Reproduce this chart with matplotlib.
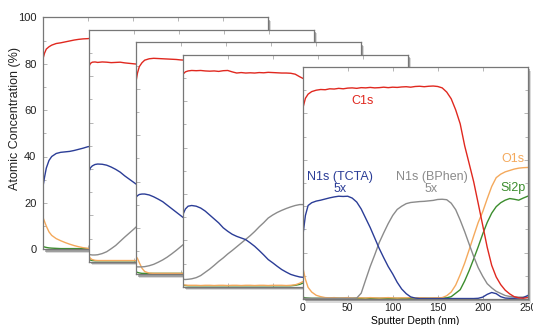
import matplotlib
matplotlib.use('Agg')
import matplotlib.pyplot as plt
from matplotlib.patches import Rectangle
from matplotlib.ticker import MultipleLocator

plt.rcParams['font.family'] = ['Liberation Sans', 'DejaVu Sans']

# ---- depth profiles: sputter depth (nm) vs atomic concentration (%) ----
# panel 1 (back)
p1_depth = [0, 2, 4, 7, 10, 15, 20, 25, 30, 35, 40, 45, 50, 55, 60]
p1_c1s = [81.7, 84.5, 86.3, 87.3, 88.0, 88.7, 89.0, 89.4, 89.8, 90.2, 90.5, 90.7, 90.8, 91.0, 91.1]
p1_tcta = [26.3, 31.0, 35.0, 38.3, 40.0, 41.3, 41.8, 42.0, 42.2, 42.6, 43.1, 43.6, 44.2, 44.5, 44.8]
p1_o1s = [14.1, 12.0, 10.0, 7.5, 6.0, 4.6, 3.7, 2.9, 2.2, 1.6, 1.1, 0.7, 0.4, 0.3, 0.3]
p1_si2p = [1.2, 1.0, 0.8, 0.6, 0.5, 0.4, 0.3, 0.3, 0.3, 0.3, 0.3, 0.3, 0.3, 0.3, 0.3]

# panel 2
p2_depth = [0, 2, 4, 7, 10, 15, 20, 25, 30, 35, 40, 45, 50, 55, 60]
p2_c1s = [84.0, 85.5, 86.0, 86.1, 85.9, 86.1, 86.0, 85.8, 85.9, 86.0, 85.7, 85.5, 85.3, 85.1, 85.0]
p2_tcta = [38.5, 40.5, 41.3, 41.9, 42.1, 42.0, 41.6, 40.8, 39.8, 38.6, 37.0, 35.6, 34.2, 32.8, 31.4]
p2_bphen = [3.2, 3.0, 2.9, 2.9, 3.0, 3.5, 4.3, 5.6, 7.0, 8.8, 10.6, 12.3, 14.0, 15.8, 17.5]
p2_o1s = [2.5, 1.4, 0.9, 0.6, 0.5, 0.5, 0.5, 0.5, 0.5, 0.5, 0.5, 0.5, 0.5, 0.5, 0.5]
p2_si2p = [1.0, 0.7, 0.5, 0.4, 0.4, 0.4, 0.4, 0.4, 0.4, 0.4, 0.4, 0.4, 0.4, 0.4, 0.4]

# panel 3
p3_depth = [0, 2, 4, 7, 10, 15, 20, 25, 30, 35, 40, 45, 50, 55, 60]
p3_c1s = [82.3, 86.8, 89.5, 91.2, 92.3, 92.9, 93.1, 93.0, 92.9, 92.8, 92.7, 92.6, 92.4, 92.3, 92.3]
p3_tcta = [33.0, 33.9, 34.4, 34.6, 34.6, 34.2, 33.4, 32.4, 31.3, 29.8, 28.3, 26.8, 25.3, 23.8, 22.3]
p3_bphen = [3.3, 3.2, 3.2, 3.2, 3.3, 3.7, 4.3, 5.2, 6.2, 7.4, 8.8, 10.3, 11.9, 13.5, 15.2]
p3_o1s = [7.9, 6.8, 5.0, 2.6, 1.2, 0.5, 0.4, 0.4, 0.4, 0.4, 0.4, 0.4, 0.4, 0.4, 0.4]
p3_si2p = [1.2, 0.8, 0.6, 0.4, 0.4, 0.4, 0.4, 0.4, 0.4, 0.4, 0.4, 0.4, 0.4, 0.4, 0.4]

# panel 4
p4_depth = [0, 3, 6, 10, 15, 20, 25, 30, 35, 40, 45, 50, 55, 60, 65, 70, 75, 80, 85, 90,
            95, 100, 105, 110, 115, 120, 125, 130, 135, 140]
p4_c1s = [91.5, 92.6, 93.0, 93.2, 93.1, 93.2, 93.0, 92.9, 93.0, 92.8, 93.1, 93.2, 92.6, 92.1, 92.3,
          92.1, 92.2, 92.1, 92.3, 92.2, 92.4, 92.3, 92.2, 92.1, 92.1, 92.0, 91.6, 90.5, 89.5, 89.0]
p4_tcta = [30.9, 33.5, 34.7, 35.0, 34.7, 33.9, 32.6, 30.9, 29.2, 27.5, 25.4, 23.9, 22.6, 21.7, 21.0,
           20.3, 18.9, 17.4, 15.6, 13.7, 11.7, 10.3, 8.8, 7.4, 6.3, 5.3, 4.7, 4.2, 4.0, 3.9]
p4_bphen = [3.2, 3.1, 3.2, 3.4, 3.9, 4.8, 6.2, 7.6, 9.2, 10.9, 12.4, 14.1, 15.6, 17.2, 18.8,
            20.4, 22.0, 23.8, 25.8, 27.6, 29.6, 30.9, 32.0, 32.9, 33.7, 34.4, 35.0, 35.4, 35.4, 35.5]
p4_o1s = [0.8, 0.7, 0.6, 0.6, 0.6, 0.5, 0.6, 0.6, 0.5, 0.6, 0.6, 0.5, 0.6, 0.6, 0.5,
          0.6, 0.6, 0.5, 0.6, 0.6, 0.5, 0.6, 0.6, 0.6, 0.5, 0.6, 0.8, 1.5, 2.5, 3.5]
p4_si2p = [0.6, 0.5, 0.4, 0.4, 0.4, 0.4, 0.4, 0.4, 0.4, 0.4, 0.4, 0.4, 0.4, 0.4, 0.4,
           0.4, 0.4, 0.4, 0.4, 0.4, 0.4, 0.4, 0.4, 0.4, 0.4, 0.4, 0.6, 1.0, 1.8, 2.5]

# panel 5 (front, full profile)
p5_depth = [0, 3, 6, 10, 15, 20, 25, 30, 35, 40, 45, 50, 55, 60, 65, 70, 75, 80, 85, 90,
            95, 100, 105, 110, 115, 120, 125, 130, 135, 140, 145, 150, 155, 160, 165, 170, 175, 180,
            185, 190, 195, 200, 205, 210, 215, 220, 225, 230, 235, 240, 245, 250]
p5_c1s = [82.0, 86.5, 88.3, 89.4, 90.0, 90.3, 90.2, 90.6, 90.5, 90.8, 90.6, 90.9, 91.0, 90.8, 91.1,
          91.0, 91.2, 91.0, 91.1, 91.3, 91.1, 91.3, 91.2, 91.4, 91.5, 91.3, 91.6, 91.7, 91.5, 91.7,
          91.8, 91.6, 91.0, 89.2, 86.3, 81.5, 75.5, 66.0, 58.3, 50.5, 41.2, 31.8, 22.3, 14.5, 9.5,
          6.2, 3.8, 2.2, 1.0, 0.5, 0.3, 0.6]
p5_tcta = [26.8, 36.0, 40.3, 41.5, 42.2, 42.6, 43.1, 43.6, 44.0, 44.3, 44.2, 44.3, 43.5, 41.8, 38.8,
           34.8, 30.8, 26.3, 21.8, 17.8, 14.0, 10.8, 7.2, 4.3, 2.3, 0.9, 0.4, 0.2, 0.2, 0.2,
           0.2, 0.2, 0.2, 0.2, 0.2, 0.2, 0.2, 0.2, 0.2, 0.2, 0.3, 0.8, 2.0, 2.8, 2.3,
           1.0, 0.4, 0.3, 0.3, 0.4, 0.6, 1.5]
p5_bphen = [0.3, 0.3, 0.3, 0.3, 0.3, 0.3, 0.3, 0.3, 0.3, 0.3, 0.3, 0.3, 0.3, 0.4, 2.5,
            8.3, 14.0, 19.0, 24.3, 28.5, 32.5, 36.0, 38.6, 40.0, 41.1, 41.6, 41.8, 42.0, 42.1, 42.3,
            42.5, 42.9, 43.0, 42.8, 41.3, 38.5, 34.0, 29.0, 23.6, 18.3, 13.5, 9.8, 6.6, 4.8, 3.3,
            2.4, 1.5, 1.1, 0.9, 0.8, 0.8, 0.8]
p5_o1s = [13.9, 8.5, 5.0, 3.0, 1.6, 1.0, 0.6, 0.5, 0.6, 0.4, 0.5, 0.6, 0.4, 0.5, 0.5,
          0.4, 0.6, 0.5, 0.4, 0.5, 0.6, 0.5, 0.4, 0.5, 0.5, 0.6, 0.4, 0.5, 0.5, 0.4,
          0.5, 0.5, 0.6, 1.4, 3.0, 6.0, 10.5, 15.5, 21.3, 27.2, 33.0, 37.6, 43.2, 48.5, 52.3,
          53.8, 54.8, 55.4, 56.0, 56.4, 56.6, 56.7]
p5_si2p = [0.8, 0.5, 0.4, 0.3, 0.3, 0.3, 0.3, 0.3, 0.3, 0.3, 0.3, 0.3, 0.3, 0.3, 0.3,
           0.3, 0.3, 0.3, 0.3, 0.3, 0.3, 0.3, 0.3, 0.3, 0.3, 0.3, 0.3, 0.3, 0.3, 0.3,
           0.3, 0.3, 0.4, 0.5, 1.0, 2.5, 4.0, 7.8, 12.3, 17.3, 22.5, 28.0, 33.0, 37.0, 39.8,
           41.5, 42.6, 43.3, 43.0, 42.6, 43.5, 44.3]

RED = '#e0281f'
BLUE = '#2b3d97'
GRAY = '#8b8b8b'
ORANGE = '#f4a95c'
GREEN = '#3b8d2d'

W, H = 533, 325
fig = plt.figure(figsize=(W / 100, H / 100), dpi=100)

# panel placement in pixels (left edge, bottom edge)
lefts = [42.7, 88.7, 135.7, 182.7, 302.7]
bottoms = [249.3, 261.7, 274.3, 286.7, 299.0]
pw, ph = 225.0, 232.0


def make_panel(i):
    l, b = lefts[i], bottoms[i]
    # soft drop shadow to the lower right
    for off, a in [(3.5, 0.18), (2.2, 0.35)]:
        fig.add_artist(Rectangle(((l + off) / W, 1 - (b + off) / H), pw / W, ph / H,
                                 transform=fig.transFigure, facecolor='#333333',
                                 edgecolor='none', alpha=a, zorder=2 * i))
    ax = fig.add_axes([l / W, 1 - b / H, pw / W, ph / H])
    ax.set_zorder(2 * i + 1)
    ax.set_facecolor('white')
    ax.set_xlim(0, 250)
    ax.set_ylim(0, 100)
    ax.xaxis.set_major_locator(MultipleLocator(50))
    ax.yaxis.set_major_locator(MultipleLocator(20))
    ax.yaxis.set_minor_locator(MultipleLocator(10))
    ax.tick_params(which='both', direction='in', top=True, right=True,
                   colors='#aaaaaa', labelcolor='#222222', width=0.6)
    ax.tick_params(which='major', length=3)
    ax.tick_params(which='minor', length=2)
    for s in ax.spines.values():
        s.set_color('#777777')
        s.set_linewidth(0.9)
    ax.set_xticklabels([])
    ax.set_yticklabels([])
    return ax


def plot_set(ax, depth, c1s, tcta, bphen, o1s, si2p):
    if si2p is not None:
        ax.plot(depth, si2p, color=GREEN, lw=1.0)
    ax.plot(depth, o1s, color=ORANGE, lw=1.0)
    if bphen is not None:
        ax.plot(depth, bphen, color=GRAY, lw=1.0)
    ax.plot(depth, tcta, color=BLUE, lw=1.0)
    ax.plot(depth, c1s, color=RED, lw=1.0)


ax1 = make_panel(0)
plot_set(ax1, p1_depth, p1_c1s, p1_tcta, None, p1_o1s, p1_si2p)
ax1.set_yticks([0, 20, 40, 60, 80, 100])
ax1.set_yticklabels(['0', '20', '40', '60', '80', '100'], fontsize=8)
ax1.tick_params(axis='y', pad=4.5)

ax2 = make_panel(1)
plot_set(ax2, p2_depth, p2_c1s, p2_tcta, p2_bphen, p2_o1s, p2_si2p)
ax3 = make_panel(2)
plot_set(ax3, p3_depth, p3_c1s, p3_tcta, p3_bphen, p3_o1s, p3_si2p)
ax4 = make_panel(3)
plot_set(ax4, p4_depth, p4_c1s, p4_tcta, p4_bphen, p4_o1s, p4_si2p)

ax5 = make_panel(4)
plot_set(ax5, p5_depth, p5_c1s, p5_tcta, p5_bphen, p5_o1s, p5_si2p)
ax5.set_xticks([0, 50, 100, 150, 200, 250])
ax5.set_xticklabels(['0', '50', '100', '150', '200', '250'], fontsize=7.5)
ax5.tick_params(axis='x', pad=3)
ax5.set_xlabel('Sputter Depth (nm)', fontsize=7.5, labelpad=2)

ax5.text(66, 85.4, 'C1s', color=RED, fontsize=9, ha='center', va='center')
ax5.text(41, 50, 'N1s (TCTA)\n5x', color=BLUE, fontsize=9, ha='center', va='center',
         linespacing=0.95)
ax5.text(143, 50, 'N1s (BPhen)\n5x', color=GRAY, fontsize=9, ha='center', va='center',
         linespacing=0.95)
ax5.text(233.5, 60.3, 'O1s', color=ORANGE, fontsize=9, ha='center', va='center', clip_on=False)
ax5.text(234, 48, 'Si2p', color=GREEN, fontsize=9, ha='center', va='center', clip_on=False)

fig.text(15 / W, 1 - 119 / H, 'Atomic Concentration (%)', rotation=90, fontsize=9,
         ha='center', va='center', color='#222222')

fig.savefig('out.png', dpi=100)
